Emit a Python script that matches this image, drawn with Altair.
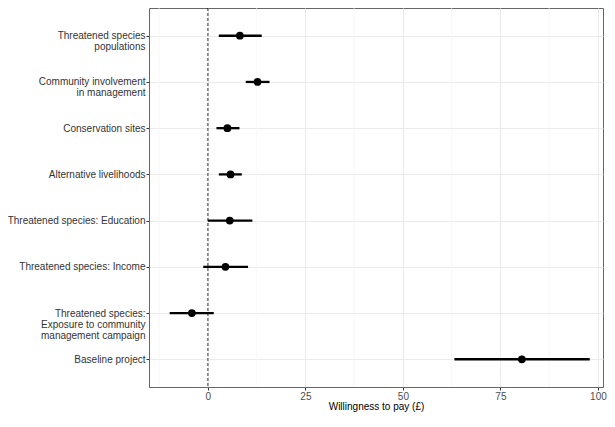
import altair as alt
import pandas as pd

categories = [
    "Threatened species\npopulations",
    "Community involvement\nin management",
    "Conservation sites",
    "Alternative livelihoods",
    "Threatened species: Education",
    "Threatened species: Income",
    "Threatened species:\nExposure to community\nmanagement campaign",
    "Baseline project",
]
estimates = [8.2, 12.7, 5.0, 5.8, 5.6, 4.5, -4.1, 80.5]
lower = [2.8, 9.7, 2.2, 2.8, 0.0, -1.2, -9.8, 63.2]
upper = [13.8, 15.8, 8.1, 8.7, 11.4, 10.3, 1.5, 97.9]
x_ticks = [0, 25, 50, 75, 100]
minor_grid = [-12.5, 12.5, 37.5, 62.5, 87.5]
ref_line = [0]

df = pd.DataFrame({"term": categories, "est": estimates, "lo": lower, "hi": upper})

FONT = "Liberation Sans"

x_scale = alt.Scale(domain=[-15.1, 101.3], nice=False, zero=False)
x_axis = alt.Axis(
    title="Willingness to pay (£)",
    values=x_ticks,
    grid=True,
    gridColor="#ebebeb",
    gridWidth=1,
    domain=False,
    tickColor="#333333",
    tickSize=3,
    labelColor="#4d4d4d",
    labelFontSize=10,
    labelPadding=1,
    titleFontSize=10,
    titleFontWeight="normal",
    titleColor="#000000",
    titlePadding=0,
    labelFont=FONT,
    titleFont=FONT,
)
y_scale = alt.Scale(type="point", padding=0.6)
y_axis = alt.Axis(
    title=None,
    labelExpr="split(datum.label, '\\n')",
    grid=True,
    gridColor="#ebebeb",
    gridWidth=1,
    domain=False,
    tickColor="#333333",
    tickSize=3,
    labelColor="#333333",
    labelFontSize=10,
    labelLineHeight=11,
    labelPadding=1,
    labelAlign="right",
    labelBaseline="middle",
    labelLimit=300,
    labelFont=FONT,
)

minor = alt.Chart(pd.DataFrame({"v": minor_grid})).mark_rule(
    color="#f3f3f3", strokeWidth=0.7
).encode(x=alt.X("v:Q", scale=x_scale, axis=x_axis))

zero = alt.Chart(pd.DataFrame({"v": ref_line})).mark_rule(
    color="#000000", strokeWidth=0.8, strokeDash=[3, 2]
).encode(x=alt.X("v:Q", scale=x_scale, axis=x_axis))

bars = alt.Chart(df).mark_rule(color="#000000", strokeWidth=2.3).encode(
    x=alt.X("lo:Q", scale=x_scale, axis=x_axis),
    x2="hi:Q",
    y=alt.Y("term:N", sort=categories, scale=y_scale, axis=y_axis),
)

points = alt.Chart(df).mark_circle(color="#000000", size=60, opacity=1).encode(
    x=alt.X("est:Q", scale=x_scale, axis=x_axis),
    y=alt.Y("term:N", sort=categories, scale=y_scale, axis=y_axis),
)

chart = alt.layer(minor, zero, bars, points).properties(
    width=454,
    height=379,
    autosize="none",
    padding={"left": 141, "top": 0, "right": 4, "bottom": 28},
    background="#ffffff",
).configure_view(stroke="#666666", strokeWidth=1)

chart.save("out.html", embed_options={"renderer": "svg", "actions": False})
